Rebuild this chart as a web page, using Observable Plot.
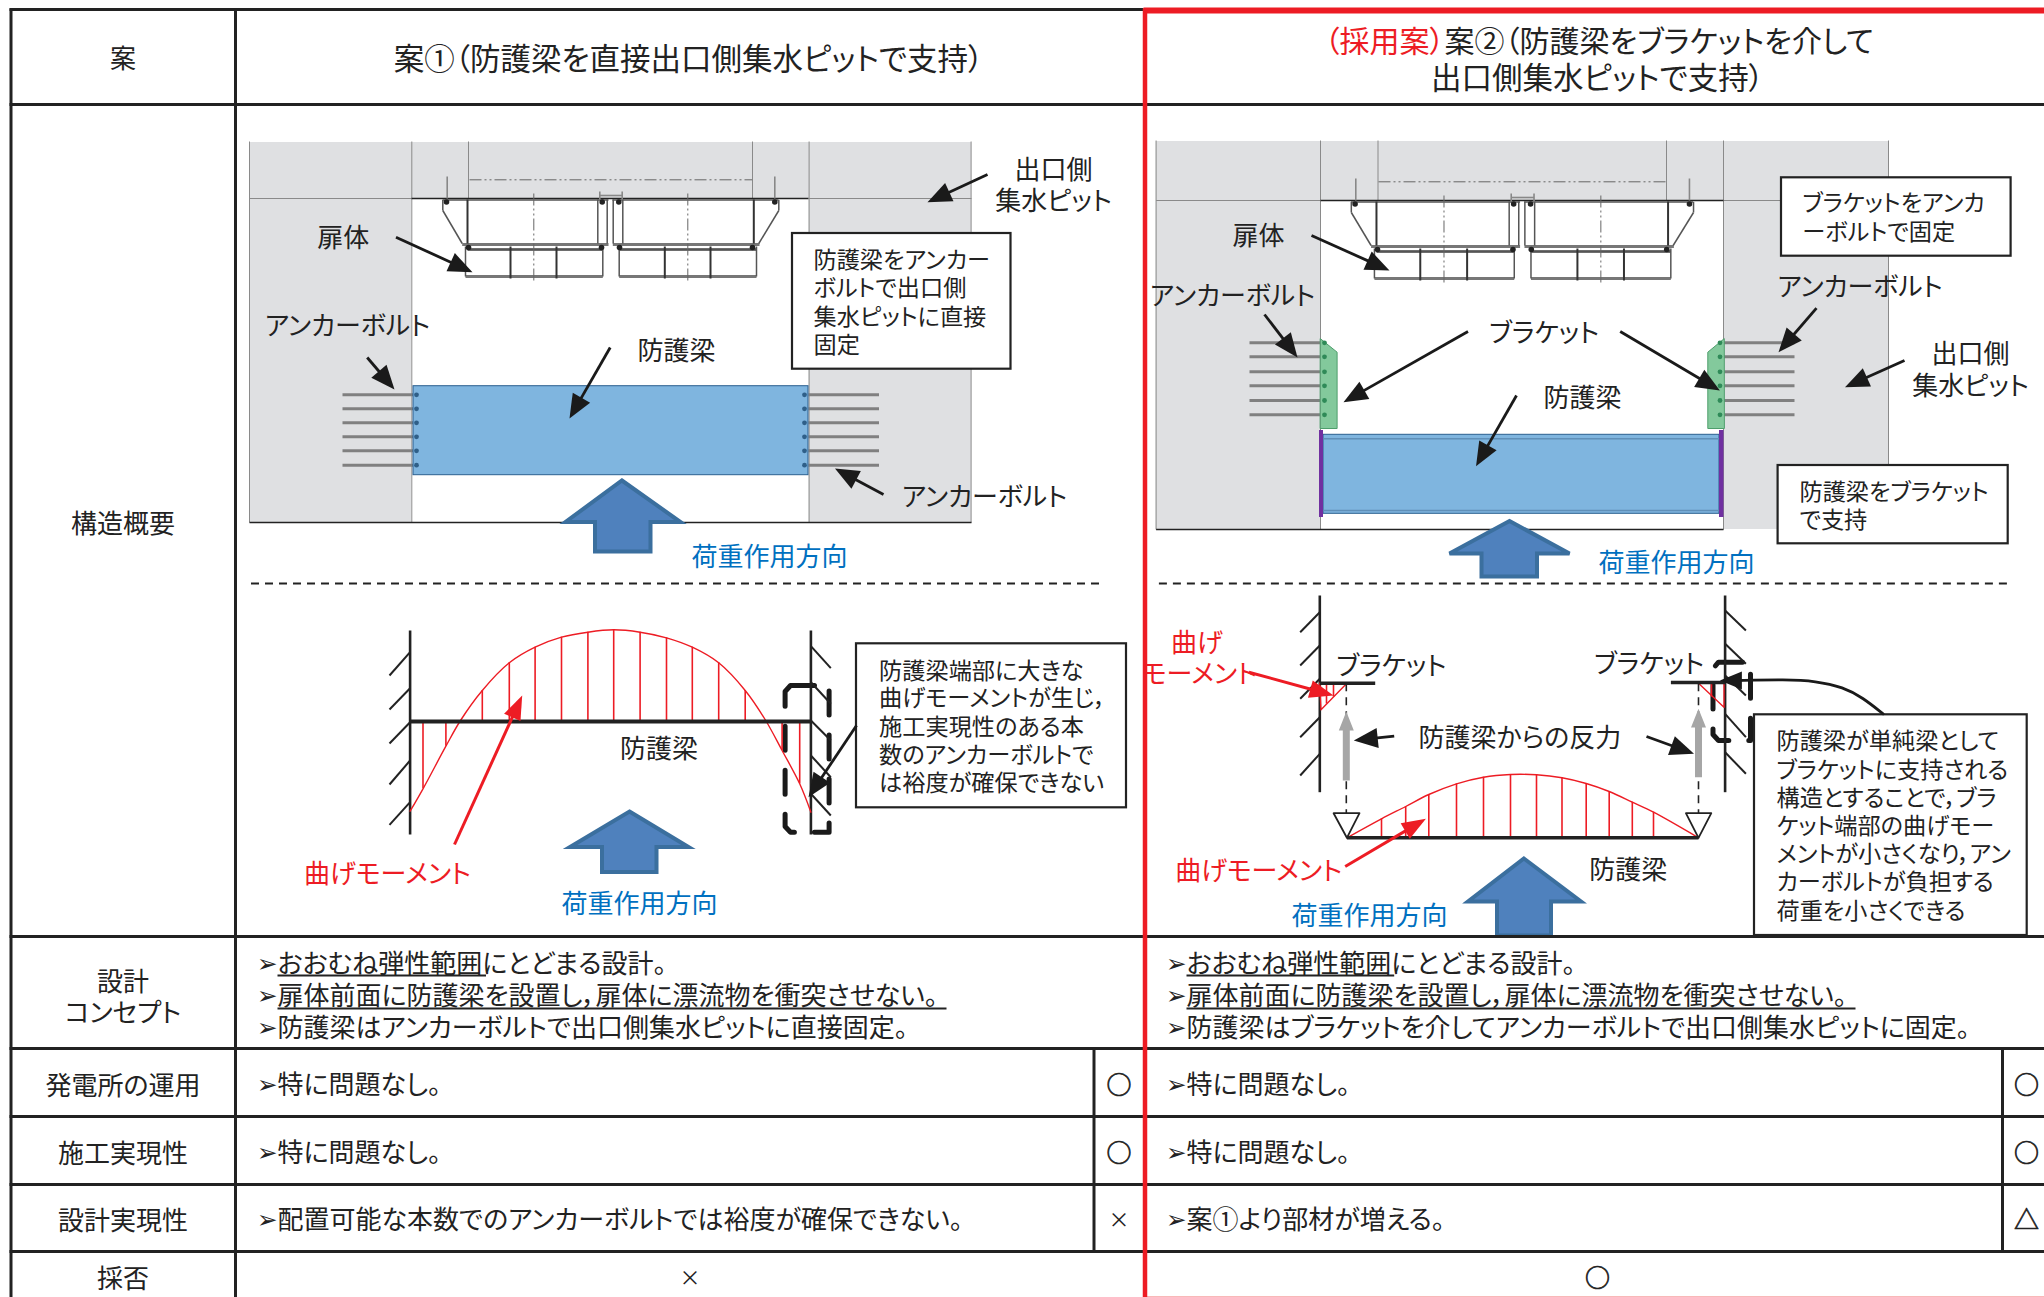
<!DOCTYPE html>
<html lang="ja">
<head>
<meta charset="utf-8">
<script src="https://cdn.jsdelivr.net/npm/d3@7"></script>
<script src="https://cdn.jsdelivr.net/npm/@observablehq/plot@0.6"></script>
<style>
html,body{margin:0;padding:0;background:#fff}
svg{display:block}
svg text{font-feature-settings:"palt" 1}
</style>
</head>
<body>
<div id="chart"></div>
<script>
// ---------- table ----------
const tableLines = [
  [9,9,1143,9],[9,104,2044,104],[9,936,2044,936],[9,1048,2044,1048],[9,1116,2044,1116],[9,1184,2044,1184],[9,1251,2044,1251],
  [10.5,8,10.5,1297],[235,8,235,1297],[1093.5,1048,1093.5,1251],[2002,1048,2002,1251]
];
const redFrame = [[1144.5,8,1144.5,1297,4.5],[1143,10,2044,10,6]];
const redBottom = [[1143,1296.5,2044,1296.5]];
const rowHeads = [["案",122.5,58.5],["構造概要",122.5,522.7],["設計",122.5,980.7],["コンセプト",122.5,1011.7],["発電所の運用",122.5,1085],["施工実現性",122.5,1153],["設計実現性",122.5,1220],["採否",122.5,1278]];
const headerCentered = [["案①（防護梁を直接出口側集水ピットで支持）",688,60],["出口側集水ピットで支持）",1597,79]];
const headerRed = [["（採用案）",1444,41.5]];
const headerLeft = [["案②（防護梁をブラケットを介して",1444,41.5]];
const bodyText = [
  ["おおむね弾性範囲にとどまる設計。",277,964],["扉体前面に防護梁を設置し，扉体に漂流物を衝突させない。",277,996],["防護梁はアンカーボルトで出口側集水ピットに直接固定。",277,1028],
  ["特に問題なし。",277,1085],["特に問題なし。",277,1153],["配置可能な本数でのアンカーボルトでは裕度が確保できない。",277,1220],
  ["おおむね弾性範囲にとどまる設計。",1186,964],["扉体前面に防護梁を設置し，扉体に漂流物を衝突させない。",1186,996],["防護梁はブラケットを介してアンカーボルトで出口側集水ピットに固定。",1186,1028],
  ["特に問題なし。",1186,1085],["特に問題なし。",1186,1153],["案①より部材が増える。",1186,1220]
];
const bulletGlyphs = bodyText.map(d=>["➢",d[1]===277?256.5:1165.5,d[2]]);
const underlines = [[277,975,485.5,975],[277,1008,946,1008],[1186,975,1393.7,975],[1186,1008,1855,1008]];
const verdicts = [["○",1118.4,1085],["○",1118.4,1153],["△",2026,1220],["○",2026,1085],["○",2026,1153],["○",1597,1278]];
const crosses = [["×",1118.4,1220],["×",689.4,1278]];
const dividers = [[250.5,583,1098.5,583],[1158.4,583,2007.7,583]];

// ---------- concrete and beams ----------
const concrete = [[249,142,971,198],[249,198,411,522],[808.6,198,971,522],[1155.6,141,1888,200],[1155.6,200,1320,529],[1723,200,1888,529]];
const wallThin = [
  [411.3,141,411.3,522],[468,141,468,198],[752,141,752,198],[808.6,141,808.6,522],[970.6,141,970.6,522],[249,141,249,522],[249,198,411,198],[808.6,198,971,198],
  [1320,140,1320,529],[1377.5,140,1377.5,200],[1666,140,1666,200],[1723,140,1723,529],[1888,140,1888,529],[1155.6,140,1155.6,529],[1155.6,200,1320,200],[1723,200,1888,200]
];
const wallDark = [[411,198,808,198],[249,522,971,522],[1320,200,1723,200],[1155.6,529,1723,529]];
const beams = [[413,385.7,808,474.7],[1323,434.3,1719,513.3]];
const beamInner = [[1323,438.3,1719,438.3],[1323,510,1719,510]];
const sidePlates = [[1319,430,1323,517],[1719,430,1723.5,517]];
const brackets = [
  {id:"L",pts:[[1320,338.3],[1336.6,351.7],[1336.6,428],[1320,428]]},
  {id:"R",pts:[[1723.5,338.3],[1707.3,351.7],[1707.3,428],[1723.5,428]]}
];
const bolts = [
  ...[394.3,408.3,422.3,436.3,450.3,464.7].flatMap(y=>[[342,y,413,y],[808,y,878.5,y]]),
  ...[342.3,356.3,371.3,385.3,400,414.3].flatMap(y=>[[1249,y,1320,y],[1723.5,y,1794,y]])
];
const boltEnds = [
  ...[394.3,408.3,422.3,436.3,450.3,464.7].flatMap(y=>[[416,y],[804,y]])
];
const boltEndsGreen = [...[342.3,356.3,371.3,385.3,400,414.3].flatMap(y=>[[1324,y],[1719.5,y]])];

// ---------- gate drawing (plan 1 coordinates; plan 2 is the same drawing, slightly wider) ----------
const gateLines = [
  [442.3,199.5,442.3,210],[442.3,210,461.7,243],[597.3,199,597.3,243],[606.7,199,606.7,243],
  [442,199.5,608,199.5],[612,199.5,778,199.5],
  [468,249,601.7,249],[618,249,756,249],[465,246,465,276],[602.3,246,602.3,276],
  [612.7,199,612.7,243],[622.3,199,622.3,243],
  [778.3,199.5,778.3,210],[778.3,210,758.3,243],[618.7,246,618.7,276],[756,246,756,276]
];
const gateHeavyGray = [[461.7,244,608,244],[612.3,244,759,244],[465,276,602.3,276],[618.7,276,756,276],[467,249,602,249],[619,249,756,249]];
const gateHeavyDark = [[467,199,467,243],[753.3,199,753.3,243],[510,246,510,278],[556,246,556,278],[664.3,246,664.3,278],[710,246,710,278]];
const gateCenter = [[533.3,193,533.3,283],[687.3,193,687.3,283],[469,179.3,751.7,179.3]];
const gateStuds = [[446.7,176,446.7,198],[774.3,176,774.3,198],[599.3,191,599.3,199],[621.7,191,621.7,199],[599.3,195,621.7,195]];
const gateBolts = [[446,201.5],[601.7,201.5],[618.3,201.5],[774.3,201.5],[468,247],[601,247],[619,247],[752,247]];
const toPlan2 = ([x,y]) => [1377.5+(x-468.5)*1.0185, y+2];
const segPlan2 = s => [...toPlan2([s[0],s[1]]),...toPlan2([s[2],s[3]])];

// ---------- bending moment diagrams ----------
const moment1X = [409.6,422.5,445.4,460,481.8,508.8,534.6,561,587.4,613.2,639.6,666,691.8,718.2,744.7,765.2,781.6,799.2,810.4];
const moment1Y = [810.7,788.3,745.7,720,690,662.3,646.7,636.7,631.7,629.3,631.7,637.3,646.7,662.3,690,720,750,783.3,811.7];
const moment2X = [1346.4,1381,1405.2,1428.3,1456,1483,1510,1536,1561.5,1585.7,1608.7,1631.8,1653,1698];
const moment2Y = [837.3,818.3,806,794,783.3,776.7,774,774.3,777.3,783,791,801.7,811.7,837.3];
const beam1Y = 721, beam2Y = 837.3;
const moment1Table = moment1X.map((x,i)=>({x,y:moment1Y[i]}));
const moment2Table = moment2X.map((x,i)=>({x,y:moment2Y[i]}));
const skip1 = new Set([0,3,15,18]);
const skip2 = new Set([0,13]);
const hatch1 = moment1Table.filter((d,i)=>!skip1.has(i));
const hatch2 = moment2Table.filter((d,i)=>!skip2.has(i));
const wallsBold = [[409.6,630,409.6,834],[810.4,630,810.4,834],[1319.3,595,1319.3,791.7],[1724.6,595,1724.6,791.7]];
const wallHatch = [
  [409.6,651.7,389,675],[409.6,687.7,389,709],[409.6,721.7,389,743],[409.6,760,389,784],[409.6,801.7,389,824.3],
  [810.4,645.7,830.3,667.7],[810.4,681.7,830.3,703.3],[810.4,720,830.3,740],[810.4,755,830.3,776.7],[810.4,793.3,830.3,815],
  [1319.3,611.7,1299.7,631.7],[1319.3,645,1299.7,665],[1319.3,678.3,1299.7,698.3],[1319.3,716.7,1299.7,736.7],[1319.3,753.3,1299.7,775],
  [1724.6,610,1745.4,630],[1724.6,643.3,1745.4,663.3],[1724.6,675,1745.4,695],[1724.6,713.3,1745.4,736.7],[1724.6,751.7,1745.4,773.3]
];
const beamLines = [[409.6,721,810.4,721,4],[1346.4,837.3,1698,837.3,3.5],[1319.3,682.7,1374.7,682.7,3.5],[1670.4,682,1724.6,682,3.5]];
const moment2End = [
  {id:"L",pts:[[1319.3,682.7],[1346.4,682.7],[1320.5,709.3]]},
  {id:"R",pts:[[1698,682.7],[1723.5,682.7],[1723.5,706.7]]}
];
const endHatch = [[1333,682.7,1333,696],[1326,682.7,1326,703],[1711,682.7,1711,696]];
const reactionDash = [[1345.8,682.7,1345.8,813],[1698,682.7,1698,813]];
const reactionArrows = [[1345.8,711,730,780],[1698,708.3,727,776.7]];
const supports = [
  {id:"L",pts:[[1333.1,812.7],[1359,812.7],[1346.4,837.3]]},
  {id:"R",pts:[[1685.4,812.7],[1710.8,812.7],[1698,837.3]]}
];
const dashedZones = [
  {id:"a",pts:[[790,685],[828.6,685],[828.6,831.7],[790,831.7],[784.6,826],[784.6,691]]},
  {id:"b",pts:[[1718,661.7],[1750,661.7],[1750,740],[1718,740],[1712.5,734],[1712.5,668]]}
];
const calloutCurveX = [1882.6,1862,1843,1815,1785.7,1735];
const calloutCurveY = [713.3,697,686.7,680.5,679,680];

// ---------- arrows ----------
const blackArrows = [
  [987,174,927,201.7],[395.5,236.7,472,271.7],[366.7,357,394,389],[609.7,347,569,418],[883,494,834.5,468],
  [856,725,808,796.7],
  [1311,235,1389,270],[1264,314,1297,357],[1816,307.7,1778,351.7],[1467.5,331,1343,401.7],[1619.7,331,1719.4,390],
  [1516,395,1475.5,465.7],[1904,360,1844.5,386.7],[1393.7,735.7,1353.3,740],[1646,736,1693.5,753.3]
];
const redArrows = [[454,844,521.7,695],[1248.4,671.7,1333,695],[1344.7,866,1425.4,818.3]];
const curveHeads = [[1745,680,1719.4,680]];
const loadArrows = [
  {id:"a",tip:[621.4,480],wingY:521.5,wing:[565,680],shaft:[594.5,650],bottom:551},
  {id:"b",tip:[1509,520.5],wingY:553,wing:[1449,1569],shaft:[1481,1536.5],bottom:576},
  {id:"c",tip:[629,811],wingY:846.5,wing:[569.5,688],shaft:[601.5,656],bottom:871.5},
  {id:"d",tip:[1523.4,858],wingY:901,wing:[1467.5,1580.5],shaft:[1496.5,1550.5],bottom:935}
];

// ---------- callouts and labels ----------
const boxes = [[792,233,1010.5,368.7],[856,643.3,1126,807.3],[1781,177.3,2010.6,255.7],[1777.6,465,2007.7,543.3],[1754,714.3,2026.7,935]];
const labels = [
  ["出口側",1053,169],["集水ピット",1053,200],["扉体",342.7,236.7],["アンカーボルト",347,325],["防護梁",676,350],["アンカーボルト",984,495.7],
  ["防護梁",658.4,747.7],
  ["扉体",1258,235],["アンカーボルト",1232,295],["アンカーボルト",1859.5,285.7],["ブラケット",1543.6,332],["防護梁",1582,396.7],["出口側",1970,353],["集水ピット",1970,385],
  ["ブラケット",1390.8,665],["ブラケット",1648.5,662.7],["防護梁からの反力",1519.4,737.3],["防護梁",1627.8,869.3]
];
const blueLabels = [["荷重作用方向",769,555.7],["荷重作用方向",1676,561.7],["荷重作用方向",639,903.3],["荷重作用方向",1369,915]];
const redLabels = [["曲げモーメント",387,872.7],["曲げ",1196.5,641.7],["モーメント",1199,673.3],["曲げモーメント",1258.2,870]];
const boxText = [
  ["防護梁をアンカー",813,260],["ボルトで出口側",813,288],["集水ピットに直接",813,317],["固定",813,345],
  ["防護梁端部に大きな",878.6,670.7],["曲げモーメントが生じ，",878.6,698.3],["施工実現性のある本",878.6,726.7],["数のアンカーボルトで",878.6,755],["は裕度が確保できない",878.6,783.3],
  ["ブラケットをアンカ",1802,203],["ーボルトで固定",1802,231.7],
  ["防護梁をブラケット",1799,492.3],["で支持",1799,520],
  ["防護梁が単純梁として",1776,741],["ブラケットに支持される",1776,770],["構造とすることで，ブラ",1776,798.3],["ケット端部の曲げモー",1776,826],["メントが小さくなり，アン",1776,854],["カーボルトが負担する",1776,881.7],["荷重を小さくできる",1776,910.7]
];

// ---------- helpers that turn the tables into marks ----------
const seg = (data,o={}) => Plot.link(data,{x1:d=>d[0],y1:d=>d[1],x2:d=>d[2],y2:d=>d[3],...o});
const box = (data,o={}) => Plot.rect(data,{x1:d=>d[0],y1:d=>d[1],x2:d=>d[2],y2:d=>d[3],...o});
const txt = (data,o={}) => Plot.text(data,{x:d=>d[1],y:d=>d[2],text:d=>d[0],lineAnchor:"middle",...o});
const poly = (shapes,o={}) => Plot.line(shapes.flatMap(s=>s.pts.map(p=>({id:s.id,x:p[0],y:p[1]}))),{x:"x",y:"y",z:"id",curve:"linear-closed",...o});
function headPolys(list,len,half){
  return list.map((a,i)=>{
    const dx=a[2]-a[0],dy=a[3]-a[1],n=Math.hypot(dx,dy),ux=dx/n,uy=dy/n;
    const bx=a[2]-ux*len,by=a[3]-uy*len;
    return {id:i,pts:[[a[2],a[3]],[bx-uy*half,by+ux*half],[bx+uy*half,by-ux*half]]};
  });
}
const shafts = (list,len) => list.map(a=>{
  const dx=a[2]-a[0],dy=a[3]-a[1],n=Math.hypot(dx,dy);
  return [a[0],a[1],a[2]-dx/n*len*0.7,a[3]-dy/n*len*0.7];
});
const loadPolys = loadArrows.map(a=>({id:a.id,pts:[a.tip,[a.wing[1],a.wingY],[a.shaft[1],a.wingY],[a.shaft[1],a.bottom],[a.shaft[0],a.bottom],[a.shaft[0],a.wingY],[a.wing[0],a.wingY]]}));
const reactionPolys = reactionArrows.map((r,i)=>({id:i,pts:[[r[0],r[1]],[r[0]+7.5,r[2]],[r[0]+3.5,r[2]],[r[0]+3.5,r[3]],[r[0]-3.5,r[3]],[r[0]-3.5,r[2]],[r[0]-7.5,r[2]]]}));

const INK="#222", RED="#ED1C24", BLUE="#0070C0";
const plot = Plot.plot({
  width:2044,height:1297,margin:0,
  x:{domain:[0,2044],range:[0,2044],axis:null},
  y:{domain:[0,1297],range:[0,1297],axis:null},
  style:{background:"#fff",fontFamily:'"Noto Sans CJK JP","DejaVu Sans",sans-serif'},
  marks:[
    // structure, upper drawings
    box(concrete,{fill:"#DFE0E2"}),
    seg(wallThin,{stroke:"#8a8a8a",strokeWidth:1}),
    seg(wallDark,{stroke:"#222",strokeWidth:1.6}),
    seg(gateHeavyGray,{stroke:"#777",strokeWidth:3}),
    seg(gateHeavyGray.map(segPlan2),{stroke:"#777",strokeWidth:3}),
    seg(gateLines,{stroke:"#555",strokeWidth:1.5}),
    seg(gateLines.map(segPlan2),{stroke:"#555",strokeWidth:1.5}),
    seg(gateHeavyDark,{stroke:"#333",strokeWidth:2}),
    seg(gateHeavyDark.map(segPlan2),{stroke:"#333",strokeWidth:2}),
    seg(gateCenter,{stroke:"#666",strokeWidth:1,strokeDasharray:"12,3,2,3,2,3"}),
    seg(gateCenter.map(segPlan2),{stroke:"#666",strokeWidth:1,strokeDasharray:"12,3,2,3,2,3"}),
    seg(gateStuds,{stroke:"#888",strokeWidth:1.6}),
    seg(gateStuds.map(segPlan2),{stroke:"#888",strokeWidth:1.6}),
    Plot.dot(gateBolts,{x:d=>d[0],y:d=>d[1],r:2.8,fill:"#222"}),
    Plot.dot(gateBolts.map(toPlan2),{x:d=>d[0],y:d=>d[1],r:2.8,fill:"#222"}),
    seg(bolts,{stroke:"#808080",strokeWidth:3}),
    box(beams,{fill:"#7FB5DF",stroke:"#2B5F8F",strokeWidth:1}),
    seg(beamInner,{stroke:"#5F8FB8",strokeWidth:1.4}),
    poly(brackets,{fill:"#83C99C",stroke:"#4E9E6C",strokeWidth:1}),
    box(sidePlates,{fill:"#7030A0"}),
    Plot.dot(boltEnds,{x:d=>d[0],y:d=>d[1],r:2.4,fill:"#2F5F88"}),
    Plot.dot(boltEndsGreen,{x:d=>d[0],y:d=>d[1],r:2.4,fill:"#2F8A58"}),

    // dividers
    seg(dividers,{stroke:"#222",strokeWidth:2,strokeDasharray:"8,6"}),

    // bending moment diagrams
    poly(dashedZones,{fill:"none",stroke:"#1a1a1a",strokeWidth:5,strokeDasharray:"24,20"}),
    seg(wallsBold,{stroke:"#222",strokeWidth:2.6}),
    seg(wallHatch,{stroke:"#222",strokeWidth:2}),
    Plot.line(moment1Table,{x:"x",y:"y",curve:"catmull-rom",stroke:RED,strokeWidth:1.4}),
    Plot.line(moment2Table,{x:"x",y:"y",curve:"catmull-rom",stroke:RED,strokeWidth:1.4}),
    Plot.ruleX(hatch1,{x:"x",y1:()=>beam1Y,y2:"y",stroke:RED,strokeWidth:1.6}),
    Plot.ruleX(hatch2,{x:"x",y1:()=>beam2Y,y2:"y",stroke:RED,strokeWidth:1.6}),
    poly(moment2End,{fill:"none",stroke:RED,strokeWidth:1.4}),
    seg(endHatch,{stroke:RED,strokeWidth:1.6}),
    seg(beamLines,{stroke:"#222",strokeWidth:d=>d[4]}),
    seg(reactionDash,{stroke:"#222",strokeWidth:1.6,strokeDasharray:"8,6"}),
    poly(reactionPolys,{fill:"#A6A6A6",stroke:"none"}),
    poly(supports,{fill:"#fff",stroke:"#222",strokeWidth:1.8}),

    // load arrows
    poly(loadPolys,{fill:"#4F81BD",stroke:"#3B6F9E",strokeWidth:4,strokeLinejoin:"miter",strokeMiterlimit:4}),

    // callout boxes
    box(boxes,{fill:"#fff",stroke:"#222",strokeWidth:2.2}),

    // pointers
    seg(shafts(blackArrows,24),{stroke:"#1a1a1a",strokeWidth:2.8}),
    poly(headPolys(blackArrows,24,10),{fill:"#1a1a1a",stroke:"none"}),
    seg(shafts(redArrows,24),{stroke:RED,strokeWidth:3}),
    poly(headPolys(redArrows,24,9),{fill:RED,stroke:"none"}),
    Plot.line(calloutCurveX.map((x,i)=>({x,y:calloutCurveY[i]})),{x:"x",y:"y",curve:"basis",stroke:"#1a1a1a",strokeWidth:2.8}),
    poly(headPolys(curveHeads,22,9),{fill:"#1a1a1a",stroke:"none"}),

    // table
    seg(tableLines,{stroke:INK,strokeWidth:3}),
    seg(underlines,{stroke:INK,strokeWidth:2}),
    seg(redBottom,{stroke:"#F7A0A0",strokeWidth:1.4}),
    seg(redFrame,{stroke:RED,strokeWidth:d=>d[4]}),

    // text
    txt(labels,{fontSize:26,fill:"#222",dy:1}),
    txt(blueLabels,{fontSize:26,fill:BLUE,dy:1}),
    txt(redLabels,{fontSize:26,fill:RED,dy:1}),
    txt(boxText,{fontSize:23.2,fill:"#222",textAnchor:"start"}),
    txt(rowHeads,{fontSize:26,fill:"#222",dy:1}),
    txt(headerCentered,{fontSize:30.5,fill:"#222"}),
    txt(headerRed,{fontSize:30,fill:RED,textAnchor:"end"}),
    txt(headerLeft,{fontSize:30,fill:"#222",textAnchor:"start"}),
    txt(bulletGlyphs,{fontSize:24.5,fill:"#222",textAnchor:"start",fontFamily:"DejaVu Sans"}),
    txt(bodyText,{fontSize:26,fill:"#222",textAnchor:"start"}),
    txt(verdicts,{fontSize:25,fill:"#222",stroke:"#222",strokeWidth:0.7}),
    txt(crosses,{fontSize:21,fill:"#222"})
  ]
});
document.getElementById("chart").append(plot);
</script>
</body>
</html>
